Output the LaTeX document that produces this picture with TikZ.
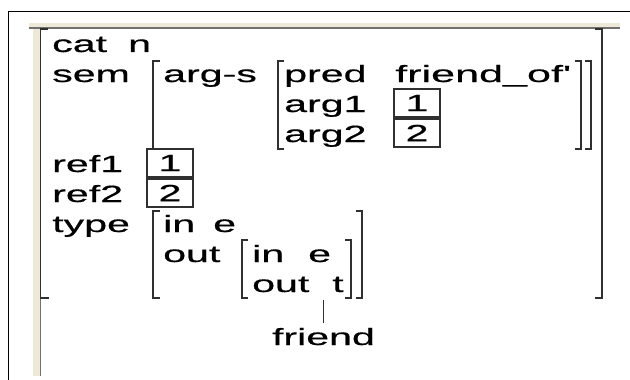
\documentclass[tikz,border=0pt]{standalone}
\usepackage{fontspec}
\usepackage{graphicx}
\newfontfamily\avmfont{Liberation Sans}[FakeStretch=1.75, FakeBold=0.6]
\usetikzlibrary{calc}
\definecolor{panel}{HTML}{ECE9D8}
\definecolor{edge}{HTML}{707070}
\definecolor{ink}{HTML}{303030}

\begin{document}
\begin{tikzpicture}[
        x=1pt, y=-1pt,
        txt/.style={anchor=base west, inner sep=0pt, font=\avmfont\fontsize{23.5}{28}\selectfont},
        tag/.style={draw=ink, line width=1.2pt, minimum width=46pt, minimum height=28pt,
            inner sep=0pt, font=\avmfont\fontsize{23.5}{28}\selectfont},
        brk/.style={draw=ink, line width=1.3pt}
    ]
    \useasboundingbox (0,0) rectangle (630,380);

% Рамка окна
    \draw[line width=1.5pt] (8.5,380) -- (8.5,11.5) -- (630,11.5);
    \fill[panel] (29,23) rectangle (620,28);
    \fill[panel] (33,28) rectangle (40,376);
    \draw[edge, line width=1.2pt] (29,28) -- (620,28);
    \draw[edge, line width=1.2pt] (40.5,28) -- (40.5,376);

% Признаки верхнего уровня
    \node[txt] (catF) at (52,52) {cat};
    \node[txt] (catV) at (128,52) {n};
    \node[txt] (semF) at (52,82) {sem};
    \node[txt] (refaF) at (52,172) {ref1};
    \node[tag] (refaV) at (170,163) {1};
    \node[txt] (refbF) at (52,202) {ref2};
    \node[tag] (refbV) at (170,193) {2};
    \node[txt] (typeF) at (52,232) {type};

% Значение sem
    \node[txt] (argsF) at (163,82) {arg-s};
    \node[txt] (predF) at (284,82) {pred};
    \node[txt] (predV) at (395,82) {\resizebox{176pt}{\height}{friend\_of'}};
    \node[txt] (argaF) at (284,112) {arg1};
    \node[tag] (argaV) at (417,103) {1};
    \node[txt] (argbF) at (284,142) {arg2};
    \node[tag] (argbV) at (417,133) {2};

% Значение type
    \node[txt] (inF) at (163,232) {in};
    \node[txt] (inV) at (213,232) {e};
    \node[txt] (outF) at (163,262) {out};
    \node[txt] (ininF) at (252,262) {in};
    \node[txt] (ininV) at (308,262) {e};
    \node[txt] (outoutF) at (252,292) {out};
    \node[txt] (outoutV) at (332,292) {t};

% Скобки
    \draw[brk] (48,29) -| (40.5,298) -- ++(8,0);
    \draw[brk] (595,29) -| (602,298) -- ++(-7,0);
    \draw[brk] (160,61) -| (153,149) -- ++(7,0);
    \draw[brk] (585,61) -| (591,149) -- ++(-6,0);
    \draw[brk] (284,61) -| (278,149) -- ++(6,0);
    \draw[brk] (575,61) -| (581,149) -- ++(-6,0);
    \draw[brk] (160,211) -| (153,298) -- ++(7,0);
    \draw[brk] (356,211) -| (362,298) -- ++(-6,0);
    \draw[brk] (248,240) -| (242,298) -- ++(6,0);
    \draw[brk] (345,240) -| (351,298) -- ++(-6,0);

% Подпись снизу
    \node[txt, outer sep=5pt] (friend) at (267,345) {friend};
    \coordinate (tail) at (322,300);
    \draw[brk] (friend.north |- tail) -- (friend.north);
\end{tikzpicture}
\end{document}
